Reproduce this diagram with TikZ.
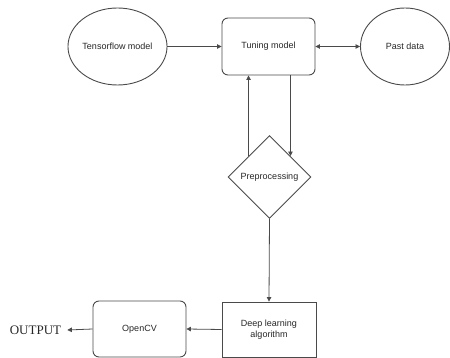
\documentclass[tikz,border=0pt]{standalone}
\usepackage{fontspec}
\setmainfont{Liberation Sans}
\newfontfamily\outfont{Liberation Serif}
\usetikzlibrary{shapes.geometric,arrows.meta}
\definecolor{linec}{HTML}{4A4A4A}
\definecolor{textc}{HTML}{262626}
\tikzset{
  every node/.style={text=textc, font=\fontsize{9}{10.5}\selectfont, inner sep=0pt},
  ell/.style={ellipse, draw=linec, line width=0.9pt},
  rbox/.style={rectangle, rounded corners=6pt, draw=linec, line width=0.9pt},
  sbox/.style={rectangle, draw=linec, line width=0.9pt, align=center},
  dia/.style={diamond, draw=linec, line width=0.9pt, aspect=1},
  arr/.style={draw=linec, line width=0.8pt, -{Triangle[length=4.5pt,width=4.5pt]}},
  darr/.style={draw=linec, line width=0.8pt, {Triangle[length=4.5pt,width=4.5pt]}-{Triangle[length=4.5pt,width=4.5pt]}}
}
\begin{document}
\begin{tikzpicture}[x=1pt,y=-1pt]
\useasboundingbox (0,0) rectangle (450,358);
\node[ell, minimum width=93pt, minimum height=77pt] (tf) at (117.5,46.5) {Tensorflow model};
\node[rbox, minimum width=93pt, minimum height=57pt] (tune) at (268.5,46.5) {Tuning model};
\node[ell, minimum width=89pt, minimum height=77pt] (past) at (405,46.5) {Past data};
\node[dia, minimum width=83pt, minimum height=83pt] (pre) at (269.5,177) {Preprocessing};
\node[sbox, minimum width=94pt, minimum height=55pt] (deep) at (269,329.5) {Deep learning\\algorithm};
\node[rbox, minimum width=93pt, minimum height=56pt] (cv) at (139.5,329) {OpenCV};
\node[font=\outfont\fontsize{13}{15}\selectfont] (out) at (35.5,330) {OUTPUT};
\draw[arr] (tf) -- (tune);
\draw[darr] (tune) -- (past);
\draw[arr] (pre.north west) -- (pre.north west |- tune.south);
\draw[arr] (pre.north east |- tune.south) -- (pre.north east);
\draw[arr] (pre.south) -- (deep.north);
\draw[arr] (deep.west) -- (cv.east);
\draw[arr] (cv.west) -- ([xshift=6pt]out.east);
\end{tikzpicture}
\end{document}
